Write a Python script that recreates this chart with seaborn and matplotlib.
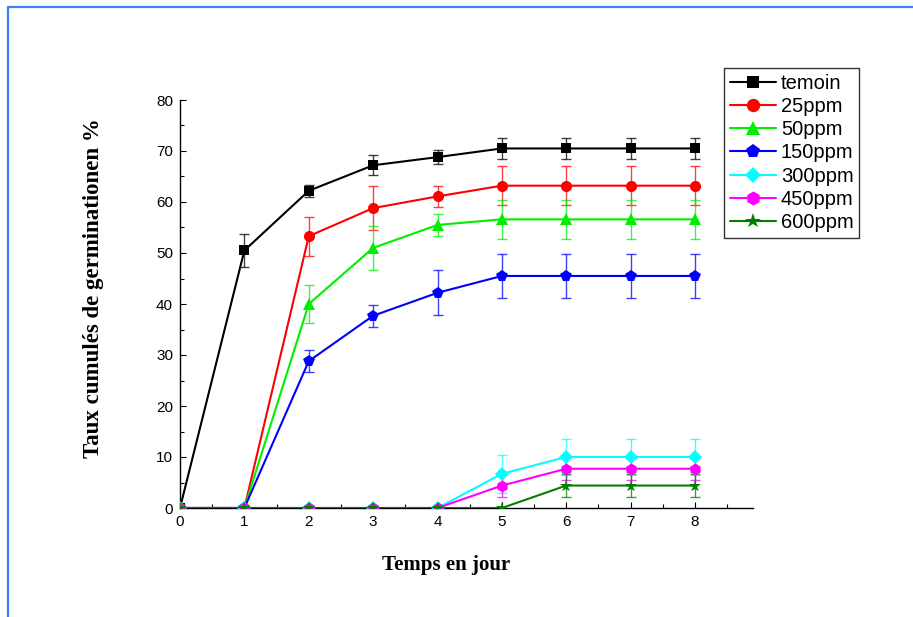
import pandas as pd
import seaborn as sns
import matplotlib.pyplot as plt
from matplotlib.lines import Line2D
from matplotlib.ticker import MultipleLocator

# Data
jours = [0, 1, 2, 3, 4, 5, 6, 7, 8]
traitements = ['temoin', '25ppm', '50ppm', '150ppm', '300ppm', '450ppm', '600ppm']

temoin = [0, 50.5, 62.2, 67.2, 68.8, 70.5, 70.5, 70.5, 70.5]
ppm25 = [0, 0, 53.3, 58.8, 61.1, 63.2, 63.2, 63.2, 63.2]
ppm50 = [0, 0, 40.0, 51.0, 55.5, 56.6, 56.6, 56.6, 56.6]
ppm150 = [0, 0, 28.8, 37.7, 42.2, 45.5, 45.5, 45.5, 45.5]
ppm300 = [0, 0, 0, 0, 0, 6.7, 10.0, 10.0, 10.0]
ppm450 = [0, 0, 0, 0, 0, 4.4, 7.7, 7.7, 7.7]
ppm600 = [0, 0, 0, 0, 0, 0, 4.4, 4.4, 4.4]

err_temoin = [0, 3.2, 1.2, 2.0, 1.4, 2.0, 2.0, 2.0, 2.0]
err_25 = [0, 0, 3.8, 4.3, 2.1, 3.8, 3.8, 3.8, 3.8]
err_50 = [0, 0, 3.7, 4.3, 2.1, 3.8, 3.8, 3.8, 3.8]
err_150 = [0, 0, 2.2, 2.2, 4.4, 4.4, 4.4, 4.4, 4.4]
err_300 = [0, 0, 0, 0, 0, 3.7, 3.6, 3.6, 3.6]
err_450 = [0, 0, 0, 0, 0, 2.2, 2.2, 2.2, 2.2]
err_600 = [0, 0, 0, 0, 0, 0, 2.2, 2.2, 2.2]

valeurs = [temoin, ppm25, ppm50, ppm150, ppm300, ppm450, ppm600]
erreurs = [err_temoin, err_25, err_50, err_150, err_300, err_450, err_600]

couleurs = ['black', 'red', '#00ee00', 'blue', 'cyan', 'magenta', 'green']
marqueurs = ['s', 'o', '^', 'p', 'D', 'h', '*']
tailles = [7, 8, 8, 8.5, 7, 8.5, 9.5]

rows = []
for t, v in zip(traitements, valeurs):
    for j, y in zip(jours, v):
        rows.append({'jour': j, 'taux': y, 'traitement': t})
df = pd.DataFrame(rows)

sns.set_style('white')
plt.rcParams['font.family'] = ['Liberation Sans', 'DejaVu Sans']
plt.rcParams['text.color'] = 'black'
plt.rcParams['axes.labelcolor'] = 'black'
plt.rcParams['xtick.color'] = 'black'
plt.rcParams['ytick.color'] = 'black'

fig = plt.figure(figsize=(9.13, 6.17), dpi=100)
ax = fig.add_axes([180 / 913, 1 - 508 / 617, 573 / 913, 408 / 617])

# error bars first, then the lines on top
for v, e, c in zip(valeurs, erreurs, couleurs):
    xs = [j for j, ee in zip(jours, e) if ee > 0]
    ys = [y for y, ee in zip(v, e) if ee > 0]
    es = [ee for ee in e if ee > 0]
    ax.errorbar(xs, ys, yerr=es, fmt='none', ecolor=c, elinewidth=1.0,
                capsize=3.5, capthick=1.0, alpha=0.75, zorder=2)

for t, c, m, s in zip(traitements, couleurs, marqueurs, tailles):
    sns.lineplot(data=df[df['traitement'] == t], x='jour', y='taux',
                 color=c, marker=m, markersize=s, markeredgewidth=0,
                 linewidth=1.5, label=t, ax=ax, zorder=3)

ax.set_xlim(0, 8.9)
ax.set_ylim(0, 80)
ax.set_xticks(range(0, 9))
ax.set_yticks(range(0, 81, 10))
ax.xaxis.set_minor_locator(MultipleLocator(0.5))
ax.yaxis.set_minor_locator(MultipleLocator(5))
ax.tick_params(which='major', direction='in', length=4, width=0.8,
               labelsize=11, colors='black', pad=5)
ax.tick_params(which='minor', direction='in', length=3, width=0.8)
ax.tick_params(axis='x', which='both', bottom=True)
ax.tick_params(axis='y', which='both', left=True)

for side in ['top', 'right']:
    ax.spines[side].set_visible(False)
for side in ['left', 'bottom']:
    ax.spines[side].set_color('black')
    ax.spines[side].set_linewidth(1.0)

ax.set_xlabel('Temps en jour', family='Liberation Serif', fontweight='bold',
              fontsize=15, color='black')
ax.set_ylabel('Taux cumulés de germinationen %', family='Liberation Serif',
              fontweight='bold', fontsize=16.5, color='black')
ax.xaxis.set_label_coords(0.464, -0.115)
ax.yaxis.set_label_coords(-0.133, 0.54)

handles, labels = ax.get_legend_handles_labels()
if ax.get_legend() is not None:
    ax.get_legend().remove()
leg = fig.legend(handles, labels, loc='upper left',
                 bbox_to_anchor=(724 / 913, 1 - 68 / 617), borderaxespad=0,
                 fontsize=14.5, frameon=True, fancybox=False,
                 edgecolor='black', handlelength=2.3, handletextpad=0.25,
                 labelspacing=0.21, borderpad=0.28, markerscale=1.2)
leg.get_frame().set_linewidth(1.0)
for txt in leg.get_texts():
    txt.set_color('black')

# blue frame of the original picture
bleu = '#3d7ff5'
fig.add_artist(Line2D([8 / 913, 1], [1 - 7 / 617, 1 - 7 / 617],
                      color=bleu, linewidth=1.6))
fig.add_artist(Line2D([8 / 913, 8 / 913], [0, 1 - 7 / 617],
                      color=bleu, linewidth=1.6))

fig.savefig('out.png', dpi=100)
